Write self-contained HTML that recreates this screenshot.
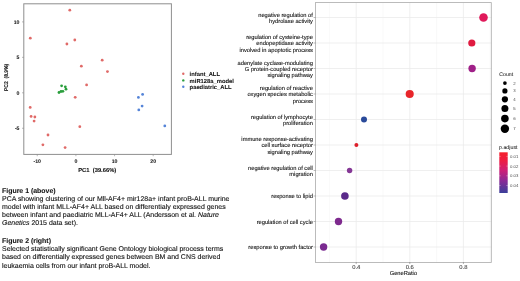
<!DOCTYPE html>
<html><head><meta charset="utf-8">
<style>
html,body{margin:0;padding:0;background:#fff;width:520px;height:281px;overflow:hidden;}
body{position:relative;font-family:"Liberation Sans",sans-serif;}
svg{position:absolute;left:0;top:0;will-change:transform;filter:blur(0.25px);}
svg text{font-family:"Liberation Sans",sans-serif;text-rendering:geometricPrecision;}
.tk{font-size:5.2px;font-weight:bold;fill:#222;stroke:#222;stroke-width:0.08px;}
.ax1{font-size:5.8px;font-weight:bold;fill:#111;stroke:#111;stroke-width:0.1px;}
.ax2{font-size:5.5px;font-weight:bold;fill:#111;stroke:#111;stroke-width:0.1px;}
.lg{font-size:5.82px;font-weight:bold;fill:#111;stroke:#111;stroke-width:0.06px;}
.go{font-size:5.72px;fill:#111;stroke:#111;stroke-width:0.1px;}
.gt{font-size:5.85px;fill:#3a3a3a;stroke:#3a3a3a;stroke-width:0.08px;}
.gl{font-size:5.73px;fill:#111;stroke:#111;stroke-width:0.1px;}
.lt{font-size:5.3px;fill:#222;stroke:#222;stroke-width:0.06px;}
.ll{font-size:4.3px;fill:#4d4d4d;}
.cap{font-size:6.98px;fill:#111;stroke:#111;stroke-width:0.12px;}
.capb{font-size:6.95px;font-weight:bold;fill:#111;stroke:#111;stroke-width:0.08px;}
</style></head><body>
<svg width="520" height="281" viewBox="0 0 520 281">
<defs><linearGradient id="pg" x1="0" y1="0" x2="0" y2="1">
<stop offset="0" stop-color="#f5202c"/>
<stop offset="0.2" stop-color="#ee1c42"/>
<stop offset="0.45" stop-color="#cc1f78"/>
<stop offset="0.7" stop-color="#8a2a96"/>
<stop offset="1" stop-color="#3a3f9a"/>
</linearGradient></defs>
<rect x="23.8" y="3.8" width="147.6" height="150.6" fill="none" stroke="#8e8e8e" stroke-width="1"/>
<line x1="22" y1="21.90" x2="23.8" y2="21.90" stroke="#8c8c8c" stroke-width="0.6"/>
<text x="19.5" y="24.00" text-anchor="end" class="tk">10</text>
<line x1="22" y1="57.35" x2="23.8" y2="57.35" stroke="#8c8c8c" stroke-width="0.6"/>
<text x="19.5" y="59.45" text-anchor="end" class="tk">5</text>
<line x1="22" y1="92.80" x2="23.8" y2="92.80" stroke="#8c8c8c" stroke-width="0.6"/>
<text x="19.5" y="94.90" text-anchor="end" class="tk">0</text>
<line x1="22" y1="128.25" x2="23.8" y2="128.25" stroke="#8c8c8c" stroke-width="0.6"/>
<text x="19.5" y="130.35" text-anchor="end" class="tk">-5</text>
<line x1="37.25" y1="154.4" x2="37.25" y2="156.2" stroke="#8c8c8c" stroke-width="0.6"/>
<text x="37.25" y="162.6" text-anchor="middle" class="tk">-10</text>
<line x1="75.90" y1="154.4" x2="75.90" y2="156.2" stroke="#8c8c8c" stroke-width="0.6"/>
<text x="75.90" y="162.6" text-anchor="middle" class="tk">0</text>
<line x1="114.55" y1="154.4" x2="114.55" y2="156.2" stroke="#8c8c8c" stroke-width="0.6"/>
<text x="114.55" y="162.6" text-anchor="middle" class="tk">10</text>
<line x1="153.20" y1="154.4" x2="153.20" y2="156.2" stroke="#8c8c8c" stroke-width="0.6"/>
<text x="153.20" y="162.6" text-anchor="middle" class="tk">20</text>
<text x="97.25" y="172.2" text-anchor="middle" class="ax1" xml:space="preserve">PC1  (39.66%)</text>
<text transform="translate(7.9,77.4) rotate(-90)" x="-13.7" y="0" textLength="27.4" lengthAdjust="spacingAndGlyphs" class="ax2" xml:space="preserve">PC2  (8.9%)</text>
<circle cx="69.8" cy="10.2" r="1.4" fill="#e06a68"/>
<circle cx="30.3" cy="38.2" r="1.4" fill="#e06a68"/>
<circle cx="74.8" cy="40.0" r="1.4" fill="#e06a68"/>
<circle cx="66.9" cy="44.0" r="1.4" fill="#e06a68"/>
<circle cx="102.2" cy="60.2" r="1.4" fill="#e06a68"/>
<circle cx="81.35" cy="66.2" r="1.4" fill="#e06a68"/>
<circle cx="107.45" cy="71.6" r="1.4" fill="#e06a68"/>
<circle cx="86.6" cy="84.95" r="1.4" fill="#e06a68"/>
<circle cx="75.2" cy="97.3" r="1.4" fill="#e06a68"/>
<circle cx="30.2" cy="107.4" r="1.4" fill="#e06a68"/>
<circle cx="31.1" cy="116.4" r="1.4" fill="#e06a68"/>
<circle cx="34.85" cy="117.0" r="1.4" fill="#e06a68"/>
<circle cx="34.1" cy="121.1" r="1.4" fill="#e06a68"/>
<circle cx="79.8" cy="126.7" r="1.4" fill="#e06a68"/>
<circle cx="48.0" cy="135.0" r="1.4" fill="#e06a68"/>
<circle cx="42.9" cy="144.8" r="1.4" fill="#e06a68"/>
<circle cx="65.1" cy="147.6" r="1.4" fill="#e06a68"/>
<circle cx="61.6" cy="85.8" r="1.4" fill="#2a9e3c"/>
<circle cx="65.3" cy="86.8" r="1.4" fill="#2a9e3c"/>
<circle cx="66.0" cy="89.2" r="1.4" fill="#2a9e3c"/>
<circle cx="59.0" cy="92.5" r="1.4" fill="#2a9e3c"/>
<circle cx="61.0" cy="91.5" r="1.4" fill="#2a9e3c"/>
<circle cx="62.9" cy="91.3" r="1.4" fill="#2a9e3c"/>
<circle cx="142.6" cy="94.4" r="1.4" fill="#5584d8"/>
<circle cx="138.4" cy="97.4" r="1.4" fill="#5584d8"/>
<circle cx="142.1" cy="106.1" r="1.4" fill="#5584d8"/>
<circle cx="138.8" cy="109.9" r="1.4" fill="#5584d8"/>
<circle cx="164.8" cy="125.9" r="1.4" fill="#5584d8"/>
<circle cx="183.3" cy="73.8" r="1.2" fill="#e06a68"/>
<text x="189.6" y="75.90" class="lg">infant_ALL</text>
<circle cx="183.3" cy="80.4" r="1.2" fill="#2a9e3c"/>
<text x="189.6" y="82.50" class="lg">miR128a_model</text>
<circle cx="183.3" cy="86.8" r="1.2" fill="#5584d8"/>
<text x="189.6" y="88.90" class="lg">paediatric_ALL</text>
<rect x="315.5" y="2.6" width="175.80" height="259.80" fill="#ffffff"/>
<line x1="329.40" y1="2.6" x2="329.40" y2="262.4" stroke="#f2f2f2" stroke-width="0.5"/>
<line x1="383.00" y1="2.6" x2="383.00" y2="262.4" stroke="#f2f2f2" stroke-width="0.5"/>
<line x1="436.60" y1="2.6" x2="436.60" y2="262.4" stroke="#f2f2f2" stroke-width="0.5"/>
<line x1="490.20" y1="2.6" x2="490.20" y2="262.4" stroke="#f2f2f2" stroke-width="0.5"/>
<line x1="356.20" y1="2.6" x2="356.20" y2="262.4" stroke="#ebebeb" stroke-width="0.8"/>
<line x1="409.80" y1="2.6" x2="409.80" y2="262.4" stroke="#ebebeb" stroke-width="0.8"/>
<line x1="463.40" y1="2.6" x2="463.40" y2="262.4" stroke="#ebebeb" stroke-width="0.8"/>
<line x1="315.5" y1="17.50" x2="491.3" y2="17.50" stroke="#ebebeb" stroke-width="0.8"/>
<line x1="315.5" y1="43.00" x2="491.3" y2="43.00" stroke="#ebebeb" stroke-width="0.8"/>
<line x1="315.5" y1="68.50" x2="491.3" y2="68.50" stroke="#ebebeb" stroke-width="0.8"/>
<line x1="315.5" y1="94.00" x2="491.3" y2="94.00" stroke="#ebebeb" stroke-width="0.8"/>
<line x1="315.5" y1="119.50" x2="491.3" y2="119.50" stroke="#ebebeb" stroke-width="0.8"/>
<line x1="315.5" y1="145.00" x2="491.3" y2="145.00" stroke="#ebebeb" stroke-width="0.8"/>
<line x1="315.5" y1="170.50" x2="491.3" y2="170.50" stroke="#ebebeb" stroke-width="0.8"/>
<line x1="315.5" y1="196.00" x2="491.3" y2="196.00" stroke="#ebebeb" stroke-width="0.8"/>
<line x1="315.5" y1="221.50" x2="491.3" y2="221.50" stroke="#ebebeb" stroke-width="0.8"/>
<line x1="315.5" y1="247.00" x2="491.3" y2="247.00" stroke="#ebebeb" stroke-width="0.8"/>
<rect x="315.5" y="2.6" width="175.80" height="259.80" fill="none" stroke="#ababab" stroke-width="0.8"/>
<line x1="313.6" y1="17.50" x2="315.5" y2="17.50" stroke="#777" stroke-width="0.5"/>
<text x="312.9" y="16.75" text-anchor="end" class="go">negative regulation of</text>
<text x="312.9" y="23.05" text-anchor="end" class="go">hydrolase activity</text>
<circle cx="483.5" cy="17.50" r="4.3" fill="#e0195a"/>
<line x1="313.6" y1="43.00" x2="315.5" y2="43.00" stroke="#777" stroke-width="0.5"/>
<text x="312.9" y="39.10" text-anchor="end" class="go">regulation of cysteine-type</text>
<text x="312.9" y="45.40" text-anchor="end" class="go">endopeptidase activity</text>
<text x="312.9" y="51.70" text-anchor="end" class="go">involved in apoptotic process</text>
<circle cx="471.8" cy="43.00" r="3.6" fill="#e01a40"/>
<line x1="313.6" y1="68.50" x2="315.5" y2="68.50" stroke="#777" stroke-width="0.5"/>
<text x="312.9" y="64.60" text-anchor="end" class="go">adenylate cyclase-modulating</text>
<text x="312.9" y="70.90" text-anchor="end" class="go">G protein-coupled receptor</text>
<text x="312.9" y="77.20" text-anchor="end" class="go">signaling pathway</text>
<circle cx="472.1" cy="68.50" r="3.7" fill="#a02088"/>
<line x1="313.6" y1="94.00" x2="315.5" y2="94.00" stroke="#777" stroke-width="0.5"/>
<text x="312.9" y="90.10" text-anchor="end" class="go">regulation of reactive</text>
<text x="312.9" y="96.40" text-anchor="end" class="go">oxygen species metabolic</text>
<text x="312.9" y="102.70" text-anchor="end" class="go">process</text>
<circle cx="409.7" cy="94.00" r="4.05" fill="#e8252a"/>
<line x1="313.6" y1="119.50" x2="315.5" y2="119.50" stroke="#777" stroke-width="0.5"/>
<text x="312.9" y="118.75" text-anchor="end" class="go">regulation of lymphocyte</text>
<text x="312.9" y="125.05" text-anchor="end" class="go">proliferation</text>
<circle cx="364.0" cy="119.50" r="3.0" fill="#2a4a9a"/>
<line x1="313.6" y1="145.00" x2="315.5" y2="145.00" stroke="#777" stroke-width="0.5"/>
<text x="312.9" y="141.10" text-anchor="end" class="go">immune response-activating</text>
<text x="312.9" y="147.40" text-anchor="end" class="go">cell surface receptor</text>
<text x="312.9" y="153.70" text-anchor="end" class="go">signaling pathway</text>
<circle cx="356.4" cy="145.00" r="2.0" fill="#dd1f2a"/>
<line x1="313.6" y1="170.50" x2="315.5" y2="170.50" stroke="#777" stroke-width="0.5"/>
<text x="312.9" y="169.75" text-anchor="end" class="go">negative regulation of cell</text>
<text x="312.9" y="176.05" text-anchor="end" class="go">migration</text>
<circle cx="349.6" cy="170.50" r="2.7" fill="#853896"/>
<line x1="313.6" y1="196.00" x2="315.5" y2="196.00" stroke="#777" stroke-width="0.5"/>
<text x="312.9" y="198.40" text-anchor="end" class="go">response to lipid</text>
<circle cx="344.9" cy="196.00" r="3.8" fill="#5a2a8a"/>
<line x1="313.6" y1="221.50" x2="315.5" y2="221.50" stroke="#777" stroke-width="0.5"/>
<text x="312.9" y="223.90" text-anchor="end" class="go">regulation of cell cycle</text>
<circle cx="338.5" cy="221.50" r="3.7" fill="#7e2a8e"/>
<line x1="313.6" y1="247.00" x2="315.5" y2="247.00" stroke="#777" stroke-width="0.5"/>
<text x="312.9" y="249.40" text-anchor="end" class="go">response to growth factor</text>
<circle cx="323.6" cy="247.00" r="3.7" fill="#7a2a90"/>
<line x1="356.20" y1="262.4" x2="356.20" y2="263.80" stroke="#444" stroke-width="0.5"/>
<text x="356.20" y="269.3" text-anchor="middle" class="gt">0.4</text>
<line x1="409.80" y1="262.4" x2="409.80" y2="263.80" stroke="#444" stroke-width="0.5"/>
<text x="409.80" y="269.3" text-anchor="middle" class="gt">0.6</text>
<line x1="463.40" y1="262.4" x2="463.40" y2="263.80" stroke="#444" stroke-width="0.5"/>
<text x="463.40" y="269.3" text-anchor="middle" class="gt">0.8</text>
<text x="403.4" y="275.4" text-anchor="middle" class="gl">GeneRatio</text>
<text x="499.3" y="76.1" class="lt" textLength="13.8" lengthAdjust="spacingAndGlyphs">Count</text>
<circle cx="504.9" cy="83.1" r="1.85" fill="#000"/>
<text x="513.2" y="84.60" class="ll">2</text>
<circle cx="504.9" cy="90.9" r="2.6" fill="#000"/>
<text x="513.2" y="92.40" class="ll">3</text>
<circle cx="504.9" cy="99.3" r="3.1" fill="#000"/>
<text x="513.2" y="100.80" class="ll">4</text>
<circle cx="504.9" cy="108.4" r="3.5" fill="#000"/>
<text x="513.2" y="109.90" class="ll">5</text>
<circle cx="504.9" cy="118.6" r="3.8" fill="#000"/>
<text x="513.2" y="120.10" class="ll">6</text>
<circle cx="504.9" cy="128.7" r="4.2" fill="#000"/>
<text x="513.2" y="130.20" class="ll">7</text>
<text x="499" y="148.7" class="lt">p.adjust</text>
<rect x="499.3" y="152.3" width="8.4" height="40.7" fill="url(#pg)"/>
<line x1="499.3" y1="156.4" x2="500.6" y2="156.4" stroke="#fff" stroke-width="0.4"/>
<line x1="506.4" y1="156.4" x2="507.7" y2="156.4" stroke="#fff" stroke-width="0.4"/>
<text x="510" y="157.90" class="ll">0.01</text>
<line x1="499.3" y1="166.1" x2="500.6" y2="166.1" stroke="#fff" stroke-width="0.4"/>
<line x1="506.4" y1="166.1" x2="507.7" y2="166.1" stroke="#fff" stroke-width="0.4"/>
<text x="510" y="167.60" class="ll">0.02</text>
<line x1="499.3" y1="175.8" x2="500.6" y2="175.8" stroke="#fff" stroke-width="0.4"/>
<line x1="506.4" y1="175.8" x2="507.7" y2="175.8" stroke="#fff" stroke-width="0.4"/>
<text x="510" y="177.30" class="ll">0.03</text>
<line x1="499.3" y1="185.5" x2="500.6" y2="185.5" stroke="#fff" stroke-width="0.4"/>
<line x1="506.4" y1="185.5" x2="507.7" y2="185.5" stroke="#fff" stroke-width="0.4"/>
<text x="510" y="187.00" class="ll">0.04</text>
<text x="2" y="192.8" class="capb">Figure 1 (above)</text>
<text x="2" y="200.9" class="cap">PCA showing clustering of our Mll-AF4+ mir128a+ infant proB-ALL murine</text>
<text x="2" y="209.0" class="cap">model with infant MLL-AF4+ ALL based on differentialy expressed genes</text>
<text x="2" y="217.1" class="cap">between infant and paediatric MLL-AF4+ ALL (Andersson et al. <tspan font-style="italic">Nature</tspan></text>
<text x="2" y="225.2" class="cap"><tspan font-style="italic">Genetics</tspan> 2015 data set).</text>
<text x="2" y="242.8" class="capb">Figure 2 (right)</text>
<text x="2" y="251.1" class="cap">Selected statistically significant Gene Ontology biological process terms</text>
<text x="2" y="259.3" class="cap">based on differentially expressed genes between BM and CNS derived</text>
<text x="2" y="267.5" class="cap">leukaemia cells from our infant proB-ALL model.</text>
</svg>
</body></html>
